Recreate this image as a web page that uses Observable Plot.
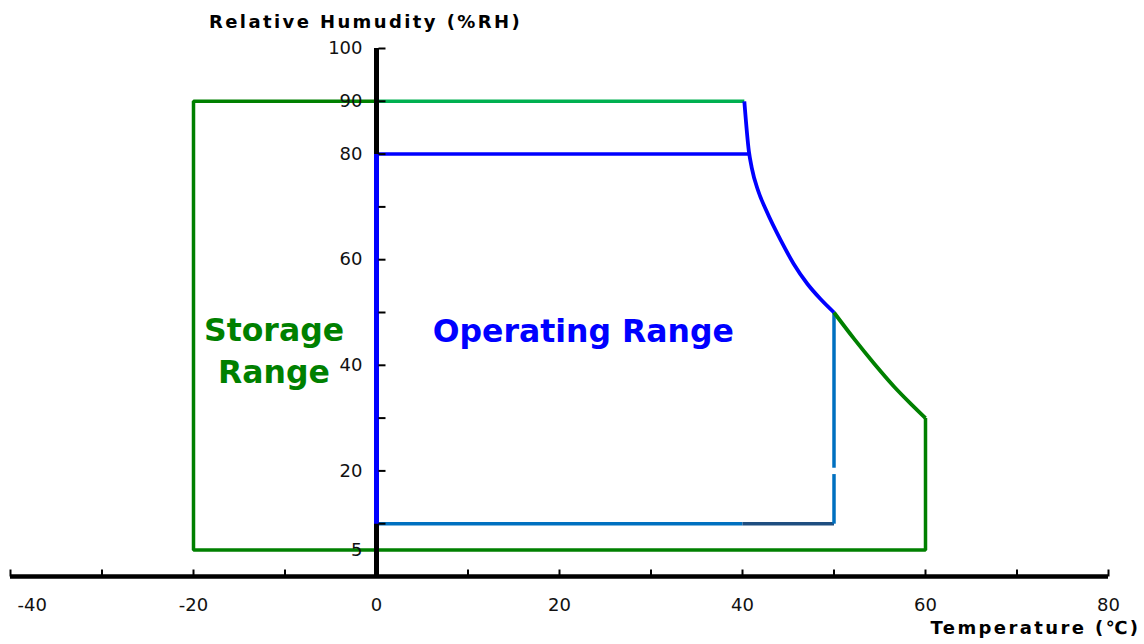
<!DOCTYPE html>
<html><head><meta charset="utf-8">
<script src="https://cdn.jsdelivr.net/npm/d3@7"></script>
<script src="https://cdn.jsdelivr.net/npm/@observablehq/plot@0.6"></script>
<style>body{margin:0;background:#fff;} #chart svg{display:block;}</style>
</head><body><div id="chart"></div>
<script>
// ---- data ----
const xTicks = [-40, -30, -20, -10, 0, 10, 20, 30, 40, 50, 60, 70, 80];
const xTickLabels = [-40, -20, 0, 20, 40, 60, 80];
const yTicks = [10, 20, 30, 40, 50, 60, 70, 80, 90, 100];
const yTickLabels = [100, 90, 80, 60, 40, 20, 5];

// Storage range outline (temperature °C, RH %)
const storageOutline = [[0, 90], [-20, 90], [-20, 5], [60, 5], [60, 30]];
const storageCurve = [[50, 50], [52.2, 45.0], [54.4, 40.3], [56.6, 35.9], [58.4, 32.7], [60, 30]];
const storageTop = [[0, 90], [40.2, 90]];

// Operating range outline
const operatingTop = [[0, 80], [40.6, 80]];
const operatingLeft = [[0, 80], [0, 10]];
const operatingCurve = [[40.2, 90], [40.7, 80.5], [41.0, 77.5], [41.7, 73.1], [42.6, 69.3],
  [44.2, 63.6], [45.6, 59.2], [47.1, 55.4], [48.5, 52.6], [50, 50]];
const operatingBottomA = [[0, 10], [40, 10]];
const operatingBottomB = [[40, 10], [50, 10]];
const operatingRightA = [[50, 50], [50, 20.6]];
const operatingRightB = [[50, 19.4], [50, 10]];

const rangeLabels = [
  {x: -11.2, y: 43.1, text: "Storage\nRange", color: "#008000"},
  {x: 22.6, y: 47, text: "Operating Range", color: "#0000ff"}
];
const xTitle = ["Temperature (℃)"];
const yTitle = ["Relative Humudity (%RH)"];

// ---- helpers ----
const tickUp = {draw(ctx) { ctx.moveTo(0, 0); ctx.lineTo(0, -7); }};
const tickRight = {draw(ctx) { ctx.moveTo(2, 0); ctx.lineTo(9, 0); }};
const seg = (data, stroke, strokeWidth = 3.5, curve = "linear") =>
  Plot.line(data, {x: d => d[0], y: d => d[1], stroke, strokeWidth, curve, strokeLinecap: "butt", strokeLinejoin: "miter"});

const chart = Plot.plot({
  width: 1144,
  height: 644,
  marginLeft: 10,
  marginRight: 36,
  marginTop: 48,
  marginBottom: 68,
  x: {domain: [-40, 80], axis: null},
  y: {domain: [0, 100], axis: null},
  style: {fontFamily: "'DejaVu Sans', 'Noto Sans CJK KR', sans-serif", fontSize: "18px", color: "#000", background: "#fff"},
  marks: [
    seg(operatingBottomA, "#0070c0"),
    seg(operatingBottomB, "#1f4e80"),
    seg(operatingRightA, "#0070c0"),
    seg(operatingRightB, "#0070c0"),
    seg(storageOutline, "#008000"),
    seg(storageTop, "#00b050"),
    seg(operatingTop, "#0000ff"),
    Plot.ruleY([0], {strokeWidth: 4.5, stroke: "#000"}),
    Plot.ruleX([0], {y1: 0, y2: 100, strokeWidth: 5, stroke: "#000"}),
    seg(operatingLeft, "#0000ff", 5),
    seg(operatingCurve, "#0000ff", 3.8, "monotone-x"),
    seg(storageCurve, "#008000", 3.8, "monotone-x"),
    Plot.dot(xTicks, {x: d => d, y: 0, symbol: tickUp, fill: "none", stroke: "#000", strokeWidth: 2}),
    Plot.dot(yTicks, {x: 0, y: d => d, symbol: tickRight, fill: "none", stroke: "#000", strokeWidth: 2}),
    Plot.text(xTickLabels.slice(1), {x: d => d, y: 0, text: d => String(d), dy: 29, fontSize: 18, fill: "#111"}),
    Plot.text(xTickLabels.slice(0, 1), {x: d => d, y: 0, text: d => String(d), dy: 29, dx: 7, textAnchor: "start", fontSize: 18, fill: "#111"}),
    Plot.text(yTickLabels, {x: 0, y: d => d, text: d => String(d), textAnchor: "end", dx: -14, fontSize: 18, fill: "#111"}),
    Plot.text(rangeLabels, {x: "x", y: "y", text: "text", fill: "color", fontSize: 31.5, fontWeight: "bold", lineHeight: 1.32}),
    Plot.text(yTitle, {x: 0, y: 100, text: d => d, textAnchor: "middle", lineAnchor: "middle", dx: -11, dy: -26, fontSize: 18, fontWeight: "bold"}),
    Plot.text(xTitle, {x: 80, y: 0, text: d => d, textAnchor: "end", lineAnchor: "middle", dx: 32, dy: 52, fontSize: 18, fontWeight: "bold"})
  ]
});
document.getElementById("chart").appendChild(chart);
const titles = new Set([...xTitle, ...yTitle]);
chart.querySelectorAll("text").forEach(t => {
  if (titles.has(t.textContent)) t.setAttribute("letter-spacing", "2.4");
});
</script>
</body></html>
